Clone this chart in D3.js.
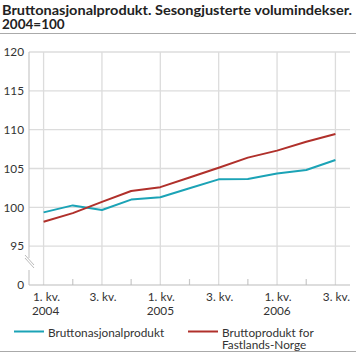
<!DOCTYPE html>
<html><head><meta charset="utf-8">
<script src="https://cdn.jsdelivr.net/npm/d3@7"></script>
<style>
html,body{margin:0;padding:0;background:#fff;}
svg{display:block;font-family:Lato,"Open Sans",sans-serif;}
</style></head>
<body>
<script>
const quarters = ["2004Q1","2004Q2","2004Q3","2004Q4","2005Q1","2005Q2","2005Q3","2005Q4","2006Q1","2006Q2","2006Q3"];
const quarterLabels = ["1. kv.","","3. kv.","","1. kv.","","3. kv.","","1. kv.","","3. kv."];
const yearLabels = ["2004","","","","2005","","","","2006","",""];
const bnp = [99.35, 100.25, 99.65, 101.0, 101.3, 102.45, 103.6, 103.65, 104.35, 104.8, 106.1];
const fastland = [98.15, 99.25, 100.7, 102.1, 102.6, 103.85, 105.1, 106.4, 107.3, 108.45, 109.45];
const yTicks = [90, 95, 100, 105, 110, 115, 120];
const yTickLabels = ["0", "95", "100", "105", "110", "115", "120"];
const seriesNames = ["Bruttonasjonalprodukt", "Bruttoprodukt for|Fastlands-Norge"];
const titleLines = ["Bruttonasjonalprodukt. Sesongjusterte volumindekser.", "2004=100"];
const colors = ["#1ba3b6", "#b0302b"];

const W = 356, H = 357;
const FS = 11.8;
const svg = d3.select("body").append("svg").attr("width", W).attr("height", H);

// Title
titleLines.forEach((t, j) => {
  const el = svg.append("text").attr("x", 2).attr("y", 15 + j * 13.5).attr("font-size", 13.5)
    .attr("font-weight", 700).attr("fill", "#222").text(t);
  if (j === 0) el.attr("textLength", 350).attr("lengthAdjust", "spacingAndGlyphs");
});
svg.append("line").attr("x1", 0).attr("x2", W).attr("y1", 33.5).attr("y2", 33.5).attr("stroke", "#aaa").attr("stroke-width", 1);

const x = d3.scaleBand().domain(quarters).range([29, 350]);
const xc = q => x(q) + x.bandwidth() / 2;
const y = d3.scaleLinear().domain([90, 120]).range([285, 52]);

const grid = svg.append("g");
yTicks.filter(v => v > 90).forEach(v => {
  grid.append("line").attr("x1", 29).attr("x2", 350).attr("y1", y(v)).attr("y2", y(v))
    .attr("stroke", "#dcdcdc").attr("stroke-width", 1.3);
});
quarters.forEach((q, i) => {
  if (quarterLabels[i]) {
    grid.append("line").attr("x1", xc(q)).attr("x2", xc(q)).attr("y1", 52).attr("y2", 285)
      .attr("stroke", "#dcdcdc").attr("stroke-width", 1.3);
  } else {
    grid.append("line").attr("x1", xc(q)).attr("x2", xc(q)).attr("y1", 279).attr("y2", 285)
      .attr("stroke", "#c8c8c8").attr("stroke-width", 1.2);
  }
});
svg.append("line").attr("x1", 29).attr("x2", 350).attr("y1", 285).attr("y2", 285).attr("stroke", "#bbb").attr("stroke-width", 1.2);
svg.append("line").attr("x1", 29).attr("x2", 29).attr("y1", 52).attr("y2", 258).attr("stroke", "#c8c8c8").attr("stroke-width", 1.2);
svg.append("line").attr("x1", 29).attr("x2", 29).attr("y1", 270).attr("y2", 285).attr("stroke", "#c8c8c8").attr("stroke-width", 1.2);
[0, 3].forEach(o => {
  svg.append("line").attr("x1", 25).attr("x2", 34).attr("y1", 255 + o).attr("y2", 265 + o)
    .attr("stroke", "#bbb").attr("stroke-width", 1);
});

yTicks.forEach((v, i) => {
  svg.append("text").attr("x", 24).attr("y", y(v)).attr("dy", "0.36em").attr("text-anchor", "end")
    .attr("font-size", FS).attr("fill", "#333").text(yTickLabels[i]);
});
quarters.forEach((q, i) => {
  if (!quarterLabels[i]) return;
  const t = svg.append("text").attr("y", 301).attr("text-anchor", "middle").attr("font-size", FS).attr("fill", "#333");
  t.append("tspan").attr("x", xc(q) + (i === 0 ? 3 : 1)).text(quarterLabels[i]);
  if (yearLabels[i]) t.append("tspan").attr("x", xc(q) + (i === 0 ? 2 : 0)).attr("dy", 13.5).text(yearLabels[i]);
});

const line = d3.line().x((d, i) => xc(quarters[i])).y(d => y(d));
[bnp, fastland].forEach((s, k) => {
  svg.append("path").datum(s).attr("d", line).attr("fill", "none").attr("stroke", colors[k])
    .attr("stroke-width", 2).attr("stroke-linejoin", "round");
});

const legX = [14, 188];
seriesNames.forEach((n, k) => {
  svg.append("line").attr("x1", legX[k]).attr("x2", legX[k] + 30).attr("y1", 331.5).attr("y2", 331.5)
    .attr("stroke", colors[k]).attr("stroke-width", 2);
  const t = svg.append("text").attr("y", 336.5).attr("font-size", FS).attr("fill", "#333");
  n.split("|").forEach((s, j) => t.append("tspan").attr("x", legX[k] + 34).attr("dy", j ? 12.2 : 0).text(s));
});
svg.append("line").attr("x1", 0).attr("x2", W).attr("y1", 351.5).attr("y2", 351.5).attr("stroke", "#aaa").attr("stroke-width", 1);
</script>
</body></html>
